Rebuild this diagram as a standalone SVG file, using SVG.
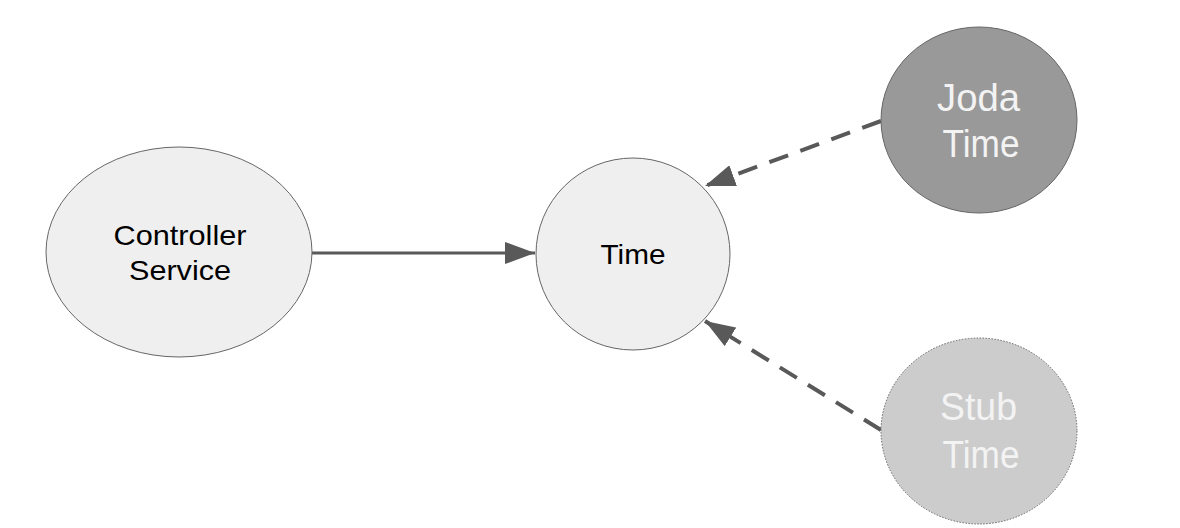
<svg xmlns="http://www.w3.org/2000/svg" width="1180" height="528" viewBox="0 0 1180 528">
  <style>
    .node { stroke: #666666; stroke-width: 1; }
    .light { fill: #efefef; }
    .dark { fill: #999999; }
    .stub { fill: #cccccc; stroke-dasharray: 1.5 1.5; }
    .lbl { font-family: "Liberation Sans", Arial, sans-serif; text-anchor: middle; }
    .small { font-size: 28px; fill: #000000; }
    .big { font-size: 38px; fill: #f3f3f3; }
    .edge { fill: none; stroke: #595959; }
    .solid { stroke-width: 3; }
    .dashed { stroke-width: 4; stroke-dasharray: 20 13; }
  </style>
  <defs>
    <marker id="arrow" viewBox="0 0 30 22" refX="30" refY="11" markerWidth="30" markerHeight="22" markerUnits="userSpaceOnUse" orient="auto">
      <path d="M0,0 L30,11 L0,22 z" fill="#595959"/>
    </marker>
  </defs>
  <rect width="1180" height="528" fill="#ffffff"/>
  <g id="connectors">
    <path class="edge solid" d="M312,253 L535,253" marker-end="url(#arrow)"/>
    <path class="edge dashed" d="M881,121 L705,186" marker-end="url(#arrow)"/>
    <path class="edge dashed" d="M881,430 L705,321" marker-end="url(#arrow)"/>
  </g>
  <g id="controller-service">
    <ellipse class="node light" cx="179" cy="252" rx="133" ry="105"/>
    <text class="lbl small" x="180" y="244.5" textLength="133" lengthAdjust="spacingAndGlyphs">Controller</text>
    <text class="lbl small" x="180" y="280" textLength="102" lengthAdjust="spacingAndGlyphs">Service</text>
  </g>
  <g id="time">
    <ellipse class="node light" cx="633" cy="254" rx="97" ry="96"/>
    <text class="lbl small" x="633" y="263.5" textLength="65" lengthAdjust="spacingAndGlyphs">Time</text>
  </g>
  <g id="joda-time">
    <ellipse class="node dark" cx="979" cy="120" rx="98" ry="93"/>
    <text class="lbl big" x="978.5" y="111" textLength="83" lengthAdjust="spacingAndGlyphs">Joda</text>
    <text class="lbl big" x="981" y="157" textLength="77" lengthAdjust="spacingAndGlyphs">Time</text>
  </g>
  <g id="stub-time">
    <ellipse class="node stub" cx="979" cy="431" rx="98" ry="93"/>
    <text class="lbl big" x="978.5" y="420" textLength="77" lengthAdjust="spacingAndGlyphs">Stub</text>
    <text class="lbl big" x="981" y="468" textLength="77" lengthAdjust="spacingAndGlyphs">Time</text>
  </g>
</svg>
